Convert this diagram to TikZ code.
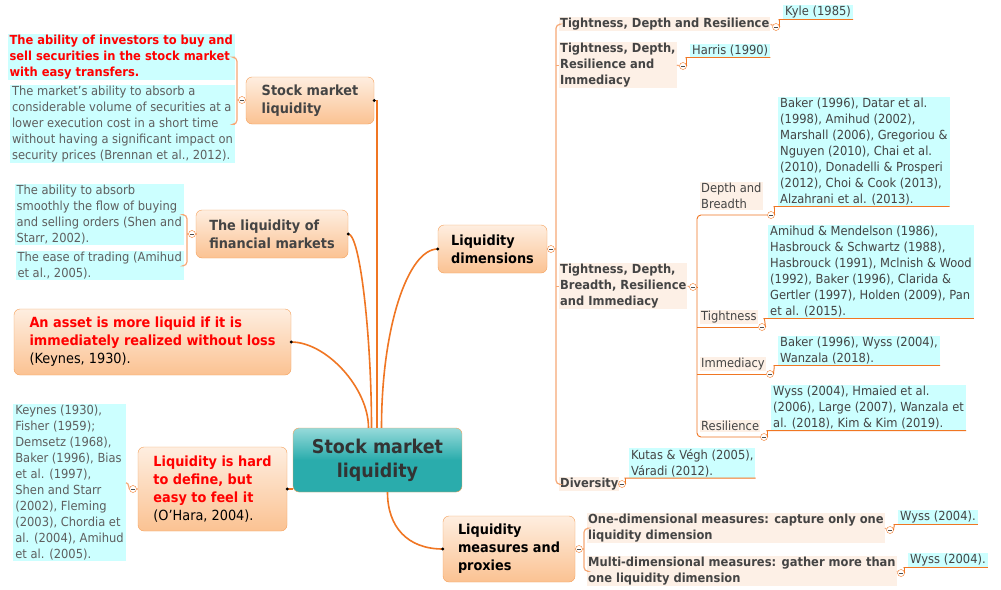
\documentclass[tikz,border=0pt]{standalone}
\usepackage{fontspec}
\setmainfont{DejaVu Sans}[FakeStretch=0.92]
\usetikzlibrary{calc}
\definecolor{branch}{RGB}{240,118,35}
\definecolor{twig}{RGB}{246,168,118}
\definecolor{boxline}{RGB}{245,160,90}
\definecolor{boxtop}{RGB}{254,238,224}
\definecolor{boxbot}{RGB}{251,194,146}
\definecolor{rootlight}{RGB}{150,218,218}
\definecolor{rootteal}{RGB}{42,172,172}
\definecolor{peach}{RGB}{253,240,230}
\definecolor{aqua}{RGB}{204,255,255}
\definecolor{note}{RGB}{95,95,95}
\definecolor{head}{RGB}{68,68,68}
\newcommand\bodysize{\fontsize{12.5}{16}\selectfont}
\newcommand\headsize{\fontsize{14}{18}\selectfont}
\newcommand\rootsize{\fontsize{19}{24}\selectfont}
\begin{document}
\begin{tikzpicture}
[x=1pt,y=-1pt,
 root/.style={draw=boxline,rounded corners=6pt,top color=rootlight,bottom color=rootteal,middle color=rootteal,
   font=\rootsize\bfseries,text=black!80,align=center,minimum width=169pt,minimum height=64pt},
 topic/.style={draw=boxline,rounded corners=6pt,top color=boxtop,bottom color=boxbot,
   font=\headsize\bfseries,text=head,align=left},
 sub/.style={anchor=north west,fill=peach,font=\bodysize\bfseries,text=head,align=left,inner xsep=1pt,inner ysep=1pt},
 twiglabel/.style={sub,font=\bodysize},
 ref/.style={fill=aqua,font=\bodysize,text=note,align=left,inner xsep=2pt,inner ysep=1pt},
 knob/.style={circle,draw=branch,fill=white,inner sep=0pt,minimum size=7pt,
   path picture={\draw[black!70] ([xshift=-1.8pt]path picture bounding box.center) -- ([xshift=1.8pt]path picture bounding box.center);}},
 trunk/.style={draw=branch,line width=1.6pt},
 fork/.style={draw=twig,line width=1.2pt,rounded corners=4pt},
 under/.style={draw=branch,line width=0.9pt,rounded corners=4pt}]
\path[use as bounding box,fill=white] (0,0) rectangle (1001,589);

\node[root] (root) at (377.5,460) {Stock market\\liquidity}; % root

% left topics
\node[topic,minimum width=128pt,minimum height=47pt] (sml) at (310,100.5) {Stock market\\liquidity};
\node[topic,minimum width=152pt,minimum height=48pt] (flm) at (272,234) {The liquidity of\\financial markets};
\node[topic,text=red,minimum width=277pt,minimum height=66pt] (keyn) at (152.5,342)
  {An asset is more liquid if it is\\immediately realized without loss\\{\mdseries\color{black}(Keynes, 1930).}};
\node[topic,text=red,minimum width=149pt,minimum height=84pt] (ohara) at (212.5,489)
  {Liquidity is hard\\to define, but\\easy to feel it\\{\mdseries\color{black}(O'Hara, 2004).}};

\node[ref,anchor=north east,font=\bodysize\bfseries,text=red] (sml1) at (235,34)
  {The ability of investors to buy and\\sell securities in the stock market\\with easy transfers.};
\node[ref,anchor=north east] (sml2) at (235,85)
  {The market's ability to absorb a\\considerable volume of securities at a\\lower execution cost in a short time\\without having a significant impact on\\security prices (Brennan et al., 2012).};
\node[ref,anchor=north east] (flm1) at (184,184)
  {The ability to absorb\\smoothly the flow of buying\\and selling orders (Shen and\\Starr, 2002).};
\node[ref,anchor=north east] (flm2) at (184,251) {The ease of trading (Amihud\\et al., 2005).};
\node[ref,anchor=north east] (ohara1) at (126,404)
  {Keynes (1930),\\Fisher (1959);\\Demsetz (1968),\\Baker (1996), Bias\\et al. (1997),\\Shen and Starr\\(2002), Fleming\\(2003), Chordia et\\al. (2004), Amihud\\et al. (2005).};

% right topics
\node[topic,text=black,minimum width=109pt,minimum height=48pt] (dims) at (492.5,249) {Liquidity\\dimensions};
\node[topic,text=black,minimum width=132pt,minimum height=66pt] (meas) at (509,549) {Liquidity\\measures and\\proxies};

\node[sub] (tdr) at (559,17) {Tightness, Depth and Resilience};
\node[sub] (tdri) at (559,42) {Tightness, Depth,\\Resilience and\\Immediacy};
\node[sub] (tdbri) at (559,263) {Tightness, Depth,\\Breadth, Resilience\\and Immediacy};
\node[sub] (div) at (559,477) {Diversity};
\node[twiglabel] (db) at (700,182) {Depth and\\Breadth};
\node[twiglabel] (tt) at (700,310) {Tightness};
\node[twiglabel] (im) at (700,357) {Immediacy};
\node[twiglabel] (rs) at (700,420) {Resilience};
\node[sub] (one) at (587,513) {One-dimensional measures: capture only one\\liquidity dimension};
\node[sub] (multi) at (587,556) {Multi-dimensional measures: gather more than\\one liquidity dimension};

\node[ref,anchor=north west,text=head] (kyle) at (783,5) {Kyle (1985)};
\node[ref,anchor=north west,text=head] (harris) at (690,44) {Harris (1990)};
\node[ref,anchor=north west,text=head] (dbref) at (778,97)
  {Baker (1996), Datar et al.\\(1998), Amihud (2002),\\Marshall (2006), Gregoriou \&\\Nguyen (2010), Chai et al.\\(2010), Donadelli \& Prosperi\\(2012), Choi \& Cook (2013),\\Alzahrani et al. (2013).};
\node[ref,anchor=north west,text=head] (ttref) at (768,225)
  {Amihud \& Mendelson (1986),\\Hasbrouck \& Schwartz (1988),\\Hasbrouck (1991), Mclnish \& Wood\\(1992), Baker (1996), Clarida \&\\Gertler (1997), Holden (2009), Pan\\et al. (2015).};
\node[ref,anchor=north west,text=head] (imref) at (778,336) {Baker (1996), Wyss (2004),\\Wanzala (2018).};
\node[ref,anchor=north west,text=head] (rsref) at (771,385)
  {Wyss (2004), Hmaied et al.\\(2006), Large (2007), Wanzala et\\al. (2018), Kim \& Kim (2019).};
\node[ref,anchor=north west,text=head] (divref) at (629,448) {Kutas \& Végh (2005),\\Váradi (2012).};
\node[ref,anchor=north west,text=head] (oneref) at (898,510) {Wyss (2004).};
\node[ref,anchor=north west,text=head] (multiref) at (908,553) {Wyss (2004).};

% knobs
\node[knob] (ksml) at (242,100) {};
\node[knob] (kflm) at (192,234) {};
\node[knob] (kohara) at (133,489) {};
\node[knob] (kdims) at (551,249) {};
\node[knob] (kmeas) at (579,549) {};
\node[knob] (ktdr) at (776,27) {};
\node[knob] (ktdri) at (683,66) {};
\node[knob] (ktdbri) at (693,287) {};
\node[knob] (kdiv) at (622,484) {};
\node[knob] (kdb) at (771,215) {};
\node[knob] (ktt) at (762,327) {};
\node[knob] (kim) at (770,374) {};
\node[knob] (krs) at (764,437) {};
\node[knob] (kone) at (890,530) {};
\node[knob] (kmulti) at (901,573) {};

% branches from the root
\draw[trunk] (sml.east) -- ($(sml.east -| root.north)+(-0.5,0)$) -- ($(root.north)+(-0.5,0)$);
\draw[trunk] (flm.east) .. controls +(12,0) and +(0,-90) .. ($(root.north)+(-6,0)$);
\draw[trunk] (keyn.east) .. controls +(35,0) and +(0,-40) .. ($(root.north)+(-9,0)$);
\draw[trunk] (ohara.east) -- (ohara.east -| root.west);
\draw[trunk] (dims.west) .. controls +(-30,0) and +(0,-100) .. ($(root.north)+(4,0)$);
\draw[trunk] (meas.west) .. controls +(-35,0) and +(0,35) .. ($(root.south)+(10,0)$);
\foreach \n/\a in {sml/east,flm/east,keyn/east,ohara/east,dims/west,meas/west}
  \fill (\n.\a) circle (1.6pt);

% left forks
\draw[fork] (sml1.east) -- ++(2,0) coordinate (b1) |- (sml2.east);
\draw[fork] (sml.west) -- (ksml) -- (ksml -| b1);
\draw[fork] (flm1.east) -- ++(3,0) coordinate (b2) |- (flm2.east);
\draw[fork] (flm.west) -- (kflm) -- (kflm -| b2);
\draw[fork] (ohara.west) -- (kohara) .. controls +(-4,0) and +(3,0) .. (ohara1.east);

% right forks
\draw[fork] (tdr.west) -- ++(-3,0) coordinate (b3) |- (div.west);
\draw[fork] (tdri.west -| b3) -- (tdri.west);
\draw[fork] (tdbri.west -| b3) -- (tdbri.west);
\draw[fork] (dims.east) -- (kdims) -- (kdims -| b3);
\draw[fork] (tdr.east) -- (ktdr);
\draw[fork] (tdri.east) -- (ktdri);
\draw[fork] (tdbri.east) -- (ktdbri);
\draw[fork] (div.east) -- (kdiv);
\coordinate (b4) at (697,287);
\draw[under] (kdb) -| (b4) |- (krs);
\draw[under] (ktdbri) -- (b4);
\draw[under] (ktt) -- (ktt -| b4);
\draw[under] (kim) -- (kim -| b4);
\draw[fork] (one.west) -- ++(-3,0) coordinate (b5) |- (multi.west);
\draw[fork] (meas.east) -- (kmeas) -- (kmeas -| b5);
\draw[fork] (one.east) -- (kone);
\draw[fork] (multi.east) -- (kmulti);

% underlines to the references
\foreach \k/\r in {ktdr/kyle,ktdri/harris,kdb/dbref,ktt/ttref,kim/imref,krs/rsref,kdiv/divref,kone/oneref,kmulti/multiref}
  \draw[under] (\k) .. controls +(3,0) and +(-3,0) .. (\r.south west) -- (\r.south east);
\end{tikzpicture}
\end{document}
